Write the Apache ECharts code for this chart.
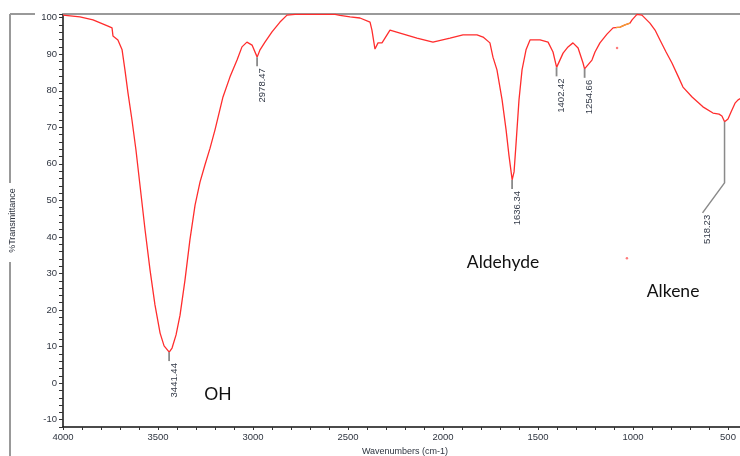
<!DOCTYPE html>
<html>
<head>
<meta charset="utf-8">
<script src="https://cdn.jsdelivr.net/npm/echarts@6/dist/echarts.min.js"></script>
<style>
html,body{margin:0;padding:0;background:#fff;}
#chart{width:740px;height:456px;}
</style>
</head>
<body>
<div id="chart"></div>
<script>
// Spectrum data (wavenumber cm-1, %Transmittance)
const wavenumbers = [4000,3911,3842,3763,3742,3737,3711,3689,3674,3658,3637,3616,3595,3568,3542,3516,3489,3468,3441,3426,3405,3384,3358,3332,3305,3279,3253,3226,3200,3158,3121,3084,3058,3032,3005,2978,2963,2937,2900,2858,2821,2779,2700,2621,2568,2542,2489,2437,2384,2374,2358,2342,2321,2279,2226,2137,2053,1963,1895,1821,1789,1753,1737,1716,1689,1668,1653,1636,1626,1616,1600,1584,1563,1542,1489,1447,1421,1402,1368,1342,1316,1289,1263,1255,1216,1200,1174,1137,1105,1068,1042,1016,1005,979,953,911,884,858,826,795,763,737,689,632,579,547,532,518,500,484,463,447,432,405];
const transmittance = [100.7,100.2,99.4,97.7,97.2,95.0,93.9,91.2,85.7,79.4,72.0,63.8,54.2,41.9,31.0,21.4,13.7,10.2,8.5,9.6,13.2,18.6,28.2,39.2,48.7,55.0,59.7,64.3,69.3,78.3,83.8,88.4,92.0,93.3,92.5,89.2,91.2,93.3,96.1,98.8,100.7,100.9,100.9,100.9,100.9,100.6,100.2,99.9,98.8,96.6,91.4,93.1,93.1,96.6,95.8,94.4,93.3,94.4,95.3,95.3,94.7,93.1,89.2,85.7,77.5,69.3,62.4,55.6,57.8,65.2,77.5,85.7,91.2,93.9,93.9,93.3,90.6,86.4,90.3,92.0,93.1,91.7,87.6,86.0,88.4,90.6,93.1,95.5,97.2,97.4,98.0,98.5,99.4,100.9,100.7,98.5,96.6,93.9,90.6,87.6,84.0,81.0,78.3,75.6,73.9,73.6,73.1,71.5,72.3,74.2,76.6,77.5,78.0,78.3];

// Orange-coloured short segment near 1000 cm-1
const orangeWn = [1090,1068,1042,1016];
const orangeT = [97.3,97.4,98.0,98.5];

// Stray dots
const dotWn = [1084,1032];
const dotT = [91.7,34.2];

// Peak annotations
const peakWn = [3441.44,2978.47,1636.34,1402.42,1254.66,518.23];
const peakT = [8.5,89.2,55.6,86.4,86.0,71.5];
const peakLabels = ['3441.44','2978.47','1636.34','1402.42','1254.66','518.23'];

// Group annotations
const noteWn = [3184,1684,789];
const noteT = [-3.2,33.1,25.2];
const noteText = ['OH','Aldehyde','Alkene'];

// Axes
const xMin = 400, xMax = 4000, xStep = 100, xLabelStep = 500;
const yMin = -12, yMax = 101, yStep = 2, yLabelStep = 10;

const chart = echarts.init(document.getElementById('chart'), null, {renderer:'canvas'});
const labelColor = '#2f3540';
const option = {
  animation: false,
  backgroundColor: '#fff',
  grid: {left: 63, right: -7, top: 14, bottom: 29, containLabel: false, outerBoundsMode: 'none'},
  xAxis: [{
    type: 'value', inverse: true, min: xMin, max: xMax, interval: xStep,
    name: 'Wavenumbers (cm-1)', nameLocation: 'middle', nameGap: 17,
    nameTextStyle: {fontSize: 9, color: labelColor, fontFamily: 'Liberation Sans'},
    axisLine: {show: true, onZero: false, lineStyle: {color: '#111', width: 1.5}},
    axisTick: {show: true, length: 3, lineStyle: {color: '#333'}},
    axisLabel: {fontSize: 9.5, color: labelColor, fontFamily: 'Liberation Sans', margin: 5,
      formatter: v => (v % xLabelStep === 0 && v <= 4000 && v >= 500) ? String(v) : ''},
    splitLine: {show: false}
  }, {
    type: 'value', inverse: true, min: xMin, max: xMax, position: 'top',
    axisLine: {show: true, onZero: false, lineStyle: {color: '#9a9a9a', width: 2}},
    axisTick: {show: false}, axisLabel: {show: false}, splitLine: {show: false}
  }],
  yAxis: {
    type: 'value', min: yMin, max: yMax, interval: yStep,
    name: '%Transmittance', nameLocation: 'middle', nameGap: 46, nameRotate: 90,
    nameTextStyle: {fontSize: 9, color: labelColor, fontFamily: 'Liberation Sans'},
    axisLine: {show: true, onZero: false, lineStyle: {color: '#111', width: 1.5}},
    axisTick: {show: true, length: 4, lineStyle: {color: '#333'}},
    axisLabel: {fontSize: 9.5, color: labelColor, fontFamily: 'Liberation Sans', margin: 6,
      formatter: v => (v % yLabelStep === 0) ? String(v) : ''},
    splitLine: {show: false}
  },
  graphic: [
    {type: 'line', shape: {x1: 10, y1: 14, x2: 35, y2: 14}, style: {stroke: '#999', lineWidth: 2}},
    {type: 'line', shape: {x1: 10, y1: 14, x2: 10, y2: 183}, style: {stroke: '#999', lineWidth: 2}},
    {type: 'line', shape: {x1: 10, y1: 262, x2: 10, y2: 456}, style: {stroke: '#999', lineWidth: 2}}
  ],
  series: [
    {
      type: 'line', name: 'spectrum', showSymbol: false, symbol: 'none', silent: true,
      lineStyle: {color: '#ff2d2d', width: 1.3},
      data: wavenumbers.map((w, i) => [w, transmittance[i]]), z: 3
    },
    {
      type: 'line', name: 'orange', showSymbol: false, symbol: 'none', silent: true,
      lineStyle: {color: '#f2a033', width: 1.3},
      data: orangeWn.map((w, i) => [w, orangeT[i]]), z: 4
    },
    {
      type: 'scatter', silent: true, symbolSize: 2.5,
      itemStyle: {color: '#ff5a5a'},
      data: dotWn.map((w, i) => [w, dotT[i]])
    },
    {
      type: 'custom', silent: true, clip: false, z: 5,
      encode: {x: 0, y: 1},
      data: peakWn.map((w, i) => [w, peakT[i], i]),
      renderItem: function (params, api) {
        const idx = api.value(2);
        const p = api.coord([api.value(0), api.value(1)]);
        const children = [];
        let tx, ty;
        if (idx === 5) {
          children.push({type: 'polyline', shape: {points: [[p[0], p[1]], [p[0], p[1] + 61], [p[0] - 22, p[1] + 91]]},
            style: {stroke: '#8a8a8a', lineWidth: 1.5, fill: null}});
          tx = p[0] - 17; ty = p[1] + 93;
        } else {
          children.push({type: 'line', shape: {x1: p[0], y1: p[1], x2: p[0], y2: p[1] + 9},
            style: {stroke: '#8a8a8a', lineWidth: 1.8}});
          tx = p[0] + 5; ty = p[1] + 11;
        }
        children.push({type: 'text', x: tx, y: ty, rotation: Math.PI / 2,
          style: {text: peakLabels[idx], fill: '#333a48', fontSize: 9.5, fontFamily: 'Liberation Sans',
            align: 'right', verticalAlign: 'middle'}});
        return {type: 'group', children: children};
      }
    },
    {
      type: 'custom', silent: true, clip: false, z: 5,
      encode: {x: 0, y: 1},
      data: noteWn.map((w, i) => [w, noteT[i], i]),
      renderItem: function (params, api) {
        const p = api.coord([api.value(0), api.value(1)]);
        return {type: 'text', x: p[0], y: p[1],
          style: {text: noteText[api.value(2)], fill: '#111', fontSize: 17.5, fontFamily: 'Lato',
            align: 'center', verticalAlign: 'middle'}};
      }
    }
  ]
};
chart.setOption(option);
</script>
</body>
</html>
